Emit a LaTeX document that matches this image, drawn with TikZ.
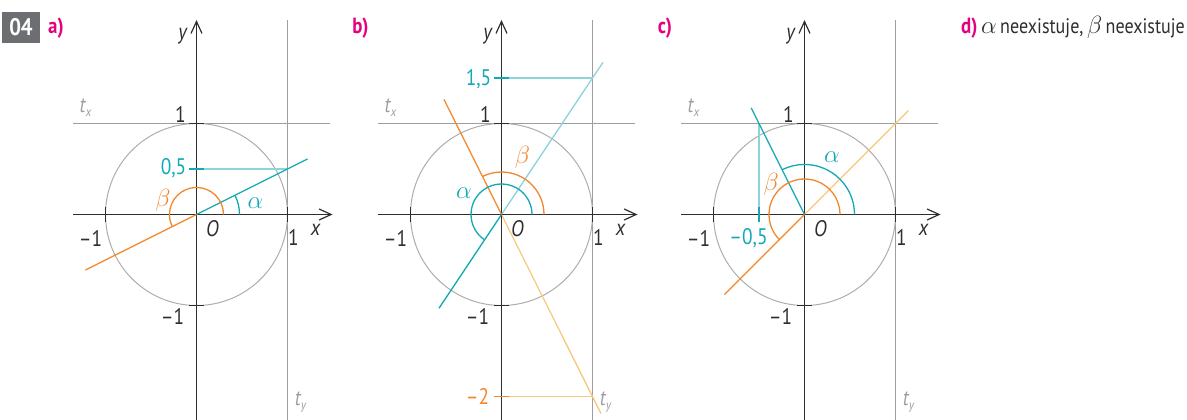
\documentclass[tikz,border=0pt]{standalone}
\usepackage{fontspec}
\setmainfont{PT Sans}[FakeStretch=0.86]
\usetikzlibrary{arrows.meta}
\definecolor{cy}{HTML}{12A9B4}
\definecolor{lcy}{HTML}{8DD3DA}
\definecolor{org}{HTML}{F2862B}
\definecolor{lorg}{HTML}{FBC680}
\definecolor{mag}{HTML}{E5007E}
\definecolor{gline}{HTML}{9E9E9E}
\definecolor{ax}{HTML}{2E2E2E}
\definecolor{boxg}{HTML}{6D6E71}
\newcommand{\gk}[1]{{\fontsize{24}{24}\selectfont$#1$}}
\newcommand{\tsub}[1]{{\itshape t\kern0.3pt\raisebox{-4pt}{\fontsize{13}{13}\selectfont #1}}}
\tikzset{
  lbl/.style={inner sep=0pt, font=\fontsize{22.5}{25}\selectfont, text=ax},
  tlbl/.style={inner sep=0pt, font=\fontsize{22}{25}\selectfont, text=gline},
  axis/.style={draw=ax, line width=1.2pt},
  tline/.style={draw=gline, line width=1.1pt},
  circ/.style={draw=gline!85, line width=1pt},
  tickm/.style={draw=ax, line width=1.3pt},
  cyl/.style={draw=cy, line width=1.3pt},
  lcyl/.style={draw=lcy, line width=1.3pt},
  orl/.style={draw=org, line width=1.3pt},
  lorl/.style={draw=lorg, line width=1.3pt},
  arr/.style={-{Straight Barb[length=12pt,width=11pt,line width=1.2pt]}},
  head/.style={inner sep=0pt, text=mag, font=\fontsize{22}{24}\selectfont\bfseries}
}
\newcommand{\basepanel}{%
  \draw[tline] (-1.352,1) -- (1.462,1);
  \draw[tline] (1,2.137) -- (1,-2.26);
  \draw[circ] (0,0) circle (1);
}
\newcommand{\axes}{%
  \draw[axis,arr] (-1.352,0) -- (1.495,0);
  \draw[axis,arr] (0,-2.26) -- (0,2.137);
  \draw[tickm] (1,-0.082) -- (1,0.082);
  \draw[tickm] (-1,-0.082) -- (-1,0.082);
  \draw[tickm] (-0.082,1) -- (0.082,1);
  \draw[tickm] (-0.082,-1) -- (0.082,-1);
  \node[lbl] (O) at (16pt,-14pt) {\itshape O};
  \node[lbl] (xl) at (119pt,-15.5pt) {\itshape x};
  \node[lbl] (x1) at (97pt,-22.5pt) {1};
  \node[lbl] (xm1) at (-106pt,-23.5pt) {–1};
  \node[lbl] (y1) at (-16pt,100.5pt) {1};
  \node[lbl] (ym1) at (-24pt,-101.5pt) {–1};
  \node[lbl] (yl) at (-14pt,178.5pt) {\itshape y};
  \node[tlbl] (tx) at (-111pt,106.5pt) {\tsub{x}};
  \node[tlbl] (ty) at (104pt,-187.5pt) {\tsub{y}};
}
\begin{document}
\begin{tikzpicture}[x=1pt,y=1pt]
\useasboundingbox (0,0) rectangle (1187,-420);
% header
\fill[boxg] (2,-12) rectangle (40,-43);
\node[inner sep=0pt, text=white, font=\fontsize{24}{26}\selectfont\bfseries] (num) at (21,-27.5) {04};
\node[head] (ha) at (56,-28) {a)};
\node[head] (hb) at (360.5,-28) {b)};
\node[head] (hc) at (665,-28) {c)};
\node[inner sep=0pt, anchor=base west, font=\fontsize{21}{24}\selectfont, text=ax] (hd) at (961,-33.5)
  {{\color{mag}\bfseries\fontsize{22}{24}\selectfont d)}\,\gk{\alpha}\,neexistuje,\,\gk{\beta}\,neexistuje};

% panel a
\begin{scope}[shift={(196.5pt,-214.5pt)}, x=91pt, y=91pt]
  \basepanel
  \draw[lcyl] (0.082,0.5) -- (1,0.5);
  \axes
  \draw[cyl] (-0.082,0.5) -- (0.082,0.5);
  \draw[cyl] (0,0) -- (1.22,0.61);
  \draw[orl] (0,0) -- (-1.22,-0.61);
  \draw[cyl] (0.4725,0) arc[start angle=0, end angle=26.57, radius=0.4725];
  \draw[orl] (0.297,0) arc[start angle=0, end angle=206.57, radius=0.297];
  \node[lbl, text=cy] (a05) at (-23pt,46.5pt) {0,5};
  \node[inner sep=0pt, text=org] (ab) at (-33.5pt,14.5pt) {\gk{\beta}};
  \node[inner sep=0pt, text=cy] (aa) at (59pt,11.5pt) {\gk{\alpha}};
\end{scope}

% panel b
\begin{scope}[shift={(501.5pt,-214.5pt)}, x=91pt, y=91pt]
  \basepanel
  \draw[lcyl] (0.082,1.5) -- (1,1.5);
  \draw[lorl] (0.082,-2) -- (1,-2);
  \draw[lcyl] (0,0) -- (1.115,1.672);
  \draw[lorl] (0,0) -- (1.093,-2.187);
  \axes
  \draw[cyl] (-0.082,1.5) -- (0.082,1.5);
  \draw[orl] (-0.082,-2) -- (0.082,-2);
  \draw[cyl] (0,0) -- (-0.687,-1.03);
  \draw[orl] (0,0) -- (-0.632,1.264);
  \draw[cyl] (0.335,0) arc[start angle=0, end angle=236.31, radius=0.335];
  \draw[orl] (0.467,0) arc[start angle=0, end angle=116.57, radius=0.467];
  \node[lbl, text=cy] (b15) at (-23pt,135.5pt) {1,5};
  \node[lbl, text=org] (bm2) at (-24pt,-182pt) {–2};
  \node[inner sep=0pt, text=cy] (ba) at (-37.5pt,21.5pt) {\gk{\alpha}};
  \node[inner sep=0pt, text=org] (bb) at (21pt,57.5pt) {\gk{\beta}};
\end{scope}

% panel c
\begin{scope}[shift={(804.5pt,-214.5pt)}, x=91pt, y=91pt]
  \basepanel
  \draw[lcyl] (-0.5,0.082) -- (-0.5,1);
  \draw[lorl] (0,0) -- (1.143,1.143);
  \axes
  \draw[cyl] (-0.5,-0.082) -- (-0.5,0.082);
  \draw[cyl] (0,0) -- (-0.586,1.172);
  \draw[orl] (0,0) -- (-0.88,-0.88);
  \draw[cyl] (0.55,0) arc[start angle=0, end angle=116.57, radius=0.55];
  \draw[orl] (0.39,0) arc[start angle=0, end angle=225, radius=0.39];
  \node[lbl, text=cy] (c05) at (-56pt,-23.5pt) {–0,5};
  \node[inner sep=0pt, text=cy] (ca) at (27.4pt,57.8pt) {\gk{\alpha}};
  \node[inner sep=0pt, text=org] (cb) at (-33.3pt,30.5pt) {\gk{\beta}};
\end{scope}
\end{tikzpicture}
\end{document}
